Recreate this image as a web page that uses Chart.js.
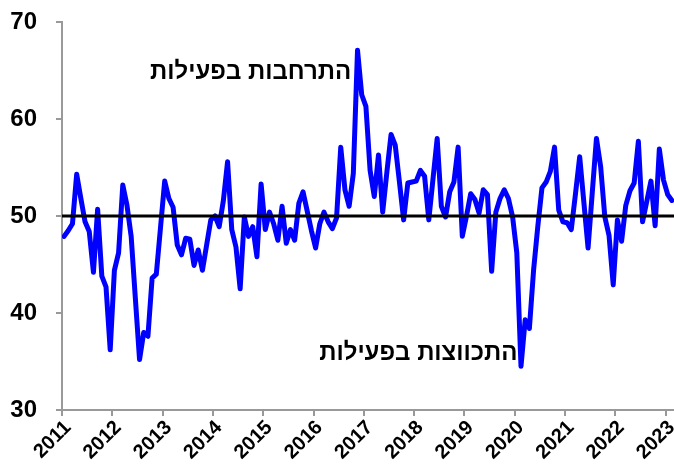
<!DOCTYPE html>
<html><head><meta charset="utf-8">
<script src="https://cdn.jsdelivr.net/npm/chart.js@4"></script>
<style>html,body{margin:0;padding:0;background:#fff}</style>
</head><body>
<canvas id="c" width="674" height="471"></canvas>
<script>
const years = ['2011','2012','2013','2014','2015','2016','2017','2018','2019','2020','2021','2022','2023'];
const pmi = [
47.9, 48.5, 49.2, 54.3, 51.8, 49.4, 48.4, 44.2, 50.7, 43.8, 42.7, 36.2,
44.4, 46.2, 53.2, 51.1, 47.9, 41.5, 35.2, 38.0, 37.6, 43.6, 44.0, 48.8,
53.6, 51.8, 50.9, 47.0, 46.0, 47.7, 47.6, 44.9, 46.5, 44.4, 47.0, 49.6,
50.0, 48.9, 51.6, 55.6, 48.6, 46.8, 42.5, 49.9, 47.9, 48.9, 45.8, 53.3,
48.6, 50.4, 49.2, 47.5, 51.0, 47.2, 48.6, 47.5, 51.3, 52.5, 50.5, 48.5,
46.7, 49.2, 50.4, 49.4, 48.7, 49.8, 57.1, 52.7, 51.0, 54.4, 67.1, 62.5,
61.3, 54.7, 52.0, 56.3, 50.4, 54.5, 58.4, 57.3, 53.5, 49.6, 53.4, 53.5,
53.6, 54.7, 54.1, 49.6, 53.8, 58.0, 51.0, 49.9, 52.5, 53.5, 57.1, 47.9,
50.0, 52.3, 51.7, 50.3, 52.7, 52.2, 44.3, 50.4, 51.8, 52.7, 51.8, 49.9,
46.2, 34.5, 39.3, 38.4, 44.4, 48.9, 52.9, 53.5, 54.6, 57.1, 50.6, 49.4,
49.3, 48.6, 52.3, 56.1, 51.4, 46.7, 52.4, 58.0, 55.1, 49.9, 48.0, 42.9,
49.6, 47.4, 51.1, 52.6, 53.4, 57.7, 49.4, 51.5, 53.6, 49.0, 56.9, 53.7,
52.2, 51.6
];
const refLevel = 50;
const yTicks = [30, 40, 50, 60, 70];
const notes = [
  {text: 'התרחבות בפעילות', month: 45, value: 64.8},
  {text: 'התכווצות בפעילות', month: 85, value: 35.8}
];

const monthsTotal = years.length * 12 - 10; // axis spans to the end of Feb 2023
const series = pmi.map((v, i) => ({x: i + 0.5, y: v}));
const refLine = [{x: 0, y: refLevel}, {x: monthsTotal, y: refLevel}];

const notePlugin = {
  id: 'notes',
  afterDatasetsDraw(chart) {
    const ctx = chart.ctx, xs = chart.scales.x, ys = chart.scales.y;
    ctx.save();
    ctx.font = 'bold 24px "Liberation Sans", Arial, sans-serif';
    ctx.fillStyle = '#000';
    ctx.textAlign = 'center';
    ctx.textBaseline = 'middle';
    ctx.direction = 'rtl';
    notes.forEach(n => ctx.fillText(n.text, xs.getPixelForValue(n.month), ys.getPixelForValue(n.value)));
    ctx.restore();
  }
};

new Chart(document.getElementById('c'), {
  type: 'line',
  data: {
    datasets: [
      {data: refLine, borderColor: '#000', borderWidth: 3, pointRadius: 0, order: 0},
      {data: series, borderColor: '#0000FF', borderWidth: 5, pointRadius: 0, tension: 0, order: 1, borderJoinStyle: 'round', borderCapStyle: 'round'}
    ]
  },
  options: {
    responsive: false,
    animation: false,
    layout: {padding: {top: 22, right: 0, left: 0, bottom: 0}},
    plugins: {legend: {display: false}, tooltip: {enabled: false}},
    scales: {
      x: {
        type: 'linear', min: 0, max: monthsTotal,
        afterBuildTicks: s => { s.ticks = years.map((y, i) => ({value: i * 12})); },
        afterFit: s => { s.height = 61; s.paddingLeft = 0; s.paddingRight = 0; },
        ticks: {
          callback: v => years[Math.round(v / 12)],
          minRotation: 45, maxRotation: 45, padding: 0, labelOffset: 6, autoSkip: false,
          color: '#000', font: {family: '"Liberation Sans", Arial, sans-serif', size: 20, weight: 'bold'}
        },
        grid: {drawOnChartArea: false, drawTicks: true, tickLength: 6, color: '#999', lineWidth: 2},
        border: {display: true, color: '#999', width: 2}
      },
      y: {
        min: 30, max: 70,
        afterBuildTicks: s => { s.ticks = yTicks.map(v => ({value: v})); },
        afterFit: s => { s.width = 62; s.paddingTop = 0; s.paddingBottom = 0; },
        ticks: {
          padding: 19,
          color: '#000', font: {family: '"Liberation Sans", Arial, sans-serif', size: 24, weight: 'bold'}
        },
        grid: {drawOnChartArea: false, drawTicks: true, tickLength: 6, color: '#999', lineWidth: 2},
        border: {display: true, color: '#999', width: 2}
      }
    }
  },
  plugins: [notePlugin]
});
</script>
</body></html>
